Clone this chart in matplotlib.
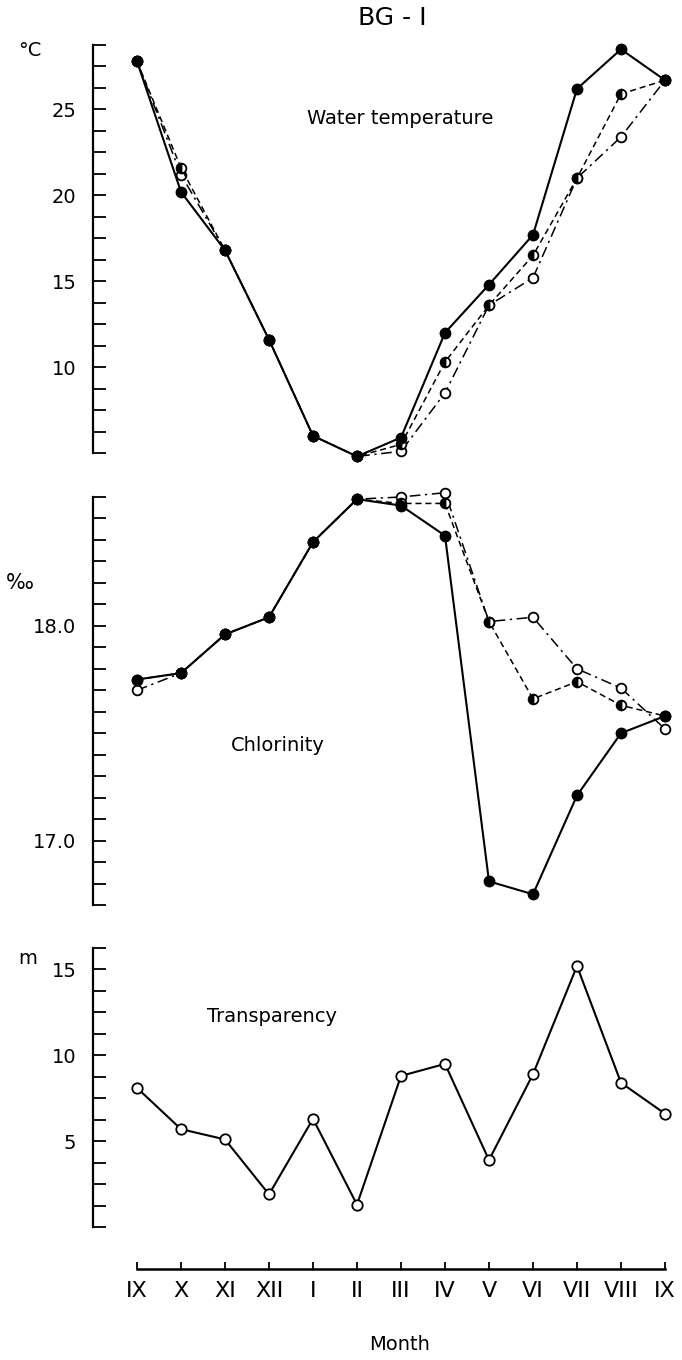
import matplotlib
matplotlib.use("Agg")
import matplotlib.pyplot as plt
import numpy as np

# month sequence, Sept to Sept
months = ["IX", "X", "XI", "XII", "I", "II", "III", "IV", "V", "VI", "VII", "VIII", "IX"]

# water temperature (deg C): surface, middle, bottom layers
temp_surface = [27.8, 20.2, 16.8, 11.6, 6.0, 4.8, 5.9, 12.0, 14.8, 17.7, 26.2, 28.5, 26.7]
temp_middle = [27.8, 21.6, 16.8, 11.6, 6.0, 4.8, 5.5, 10.3, 13.6, 16.5, 21.0, 25.9, 26.7]
temp_bottom = [27.8, 21.2, 16.8, 11.6, 6.0, 4.8, 5.1, 8.5, 13.6, 15.2, 21.0, 23.4, 26.7]

# chlorinity (permille)
cl_surface = [17.75, 17.78, 17.96, 18.04, 18.39, 18.59, 18.56, 18.42, 16.81, 16.75, 17.21, 17.50, 17.58]
cl_middle = [17.75, 17.78, 17.96, 18.04, 18.39, 18.59, 18.57, 18.57, 18.02, 17.66, 17.74, 17.63, 17.58]
cl_bottom = [17.70, 17.78, 17.96, 18.04, 18.39, 18.59, 18.60, 18.62, 18.02, 18.04, 17.80, 17.71, 17.52]

# transparency (m)
transparency = [8.1, 5.7, 5.1, 1.9, 6.3, 1.3, 8.8, 9.5, 3.9, 8.9, 15.2, 8.4, 6.6]

x = np.arange(len(months))

plt.rcParams['font.family'] = ['DejaVu Sans']

fig = plt.figure(figsize=(6.82, 13.6), dpi=100)

left = 93 / 682
width = 580.8 / 682
ax1 = fig.add_axes([left, 907 / 1360, width, 408 / 1360])
ax2 = fig.add_axes([left, 455 / 1360, width, 408 / 1360])
ax3 = fig.add_axes([left, 133 / 1360, width, 279 / 1360])

dash = (0, (4, 2.5))
dashdot = (0, (7, 3, 1.5, 3))


def draw_layers(ax, surf, mid, bot):
    ax.plot(x, bot, color='black', lw=1.1, ls=dashdot, marker='o', ms=7,
            mfc='white', mec='black', mew=1.3, zorder=3, clip_on=False)
    ax.plot(x, mid, color='black', lw=1.1, ls=dash, marker='o', ms=7,
            fillstyle='left', mfc='black', mfcalt='white', mec='black', mew=1.3,
            zorder=4, clip_on=False)
    ax.plot(x, surf, color='black', lw=1.5, ls='-', marker='o', ms=7.5,
            mfc='black', mec='black', zorder=5, clip_on=False)


def style_axis(ax, lo, hi, step, labelled, fmt):
    ticks = np.arange(lo, hi + step / 2, step)
    ax.set_ylim(lo, hi)
    ax.set_xlim(-1, 12.2)
    ax.set_yticks(ticks)
    labels = []
    for t in ticks:
        if any(abs(t - v) < 1e-6 for v in labelled):
            labels.append(fmt.format(t))
        else:
            labels.append("")
    ax.set_yticklabels(labels)
    for side in ['top', 'right', 'bottom']:
        ax.spines[side].set_visible(False)
    ax.spines['left'].set_linewidth(1.6)
    ax.tick_params(axis='y', direction='in', length=9.5, width=1.3,
                   pad=12, labelsize=14)
    ax.set_xticks([])
    ax.patch.set_visible(False)


draw_layers(ax1, temp_surface, temp_middle, temp_bottom)
style_axis(ax1, 5, 28.75, 1.25, [10, 15, 20, 25], "{:.0f}")

draw_layers(ax2, cl_surface, cl_middle, cl_bottom)
style_axis(ax2, 16.7, 18.6, 0.1, [17.0, 18.0], "{:.1f}")

ax3.plot(x, transparency, color='black', lw=1.5, marker='o', ms=7.5,
         mfc='white', mec='black', mew=1.3, clip_on=False, zorder=4)
style_axis(ax3, 0, 16.25, 1.25, [5, 10, 15], "{:.0f}")

# month axis under the bottom panel
ax3.spines['bottom'].set_visible(True)
ax3.spines['bottom'].set_position(('outward', 30))
ax3.spines['bottom'].set_bounds(0, 12)
ax3.spines['bottom'].set_linewidth(1.8)
ax3.set_xticks(x)
ax3.set_xticklabels(months, fontsize=16)
ax3.tick_params(axis='x', direction='in', length=5, width=1.3, pad=9)


# titles, units and panel labels (pixel coordinates, origin top-left)
def put(px, py, s, **kw):
    fig.text(px / 682, 1 - py / 1360, s, ha='center', va='center', **kw)


put(392, 18, "BG - I", fontsize=18)
put(30, 50, "°C", fontsize=14)
put(20, 583, "‰", fontsize=15)
put(28, 958, "m", fontsize=14)
put(400, 118, "Water temperature", fontsize=14)
put(278, 745, "Chlorinity", fontsize=14)
put(272, 1017, "Transparency", fontsize=14)
put(400, 1345, "Month", fontsize=14)

fig.savefig("out.png", dpi=100)
